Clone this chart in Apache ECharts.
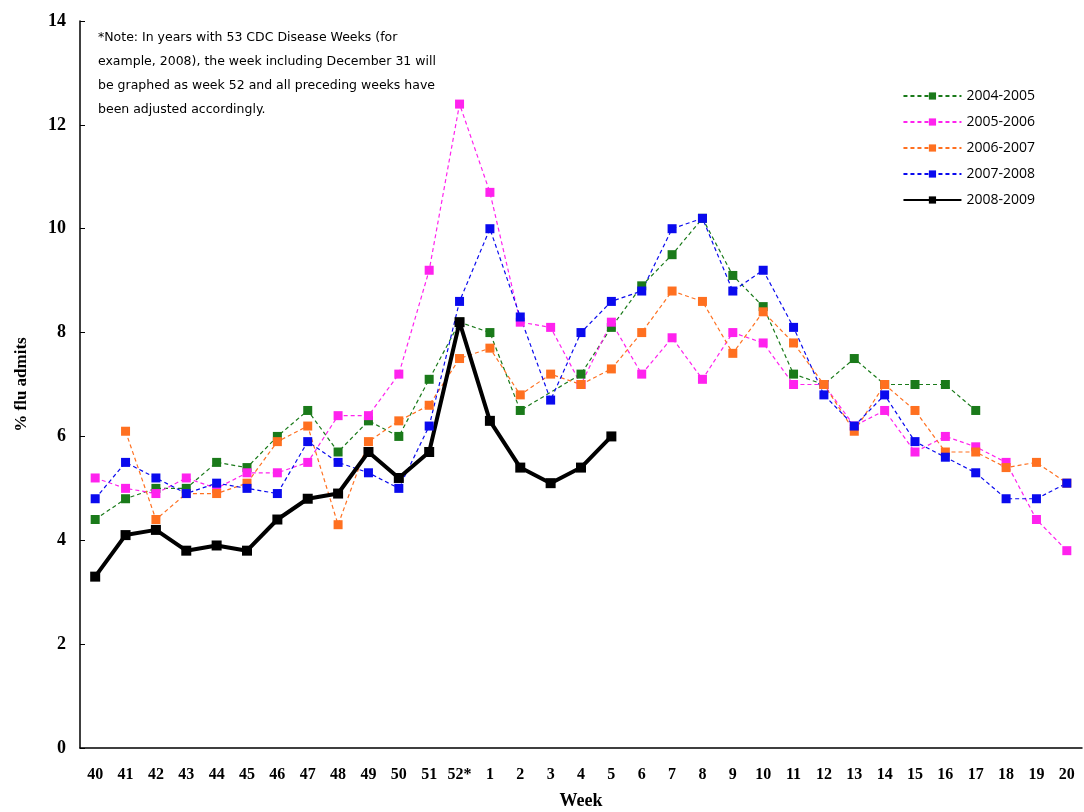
<!DOCTYPE html>
<html>
<head>
<meta charset="utf-8">
<script src="https://cdn.jsdelivr.net/npm/echarts@6/dist/echarts.min.js"></script>
<style>html,body{margin:0;padding:0;background:#fff}#container{width:1084px;height:812px}</style>
</head>
<body>
<div id="container"></div>
<script>
let weeks = ['40','41','42','43','44','45','46','47','48','49','50','51','52*',
    '1','2','3','4','5','6','7','8','9','10','11','12','13','14','15','16','17','18','19','20'];

let s0405 = [4.4,4.8,5.0,5.0,5.5,5.4,6.0,6.5,5.7,6.3,6.0,7.1,8.2,8.0,6.5,null,7.2,8.1,8.9,9.5,10.2,9.1,8.5,7.2,7.0,7.5,7.0,7.0,7.0,6.5,null,null,null];
let s0506 = [5.2,5.0,4.9,5.2,5.0,5.3,5.3,5.5,6.4,6.4,7.2,9.2,12.4,10.7,8.2,8.1,7.0,8.2,7.2,7.9,7.1,8.0,7.8,7.0,7.0,6.2,6.5,5.7,6.0,5.8,5.5,4.4,3.8];
let s0607 = [null,6.1,4.4,4.9,4.9,5.1,5.9,6.2,4.3,5.9,6.3,6.6,7.5,7.7,6.8,7.2,7.0,7.3,8.0,8.8,8.6,7.6,8.4,7.8,7.0,6.1,7.0,6.5,5.7,5.7,5.4,5.5,5.1];
let s0708 = [4.8,5.5,5.2,4.9,5.1,5.0,4.9,5.9,5.5,5.3,5.0,6.2,8.6,10.0,8.3,6.7,8.0,8.6,8.8,10.0,10.2,8.8,9.2,8.1,6.8,6.2,6.8,5.9,5.6,5.3,4.8,4.8,5.1];
let s0809 = [3.3,4.1,4.2,3.8,3.9,3.8,4.4,4.8,4.9,5.7,5.2,5.7,8.2,6.3,5.4,5.1,5.4,6.0];

let yTicks = [0,2,4,6,8,10,12,14];

let note = '*Note: In years with 53 CDC Disease Weeks (for\nexample, 2008), the week including December 31 will\nbe graphed as week 52 and all preceding weeks have\nbeen adjusted accordingly.';

function dashed(name, data, color) {
    return {
        name: name, type: 'line', data: data, connectNulls: true,
        symbol: 'rect', symbolSize: 9,
        itemStyle: {color: color},
        lineStyle: {color: color, width: 1.2, type: [4, 3]}
    };
}

let chart = echarts.init(document.getElementById('container'));
chart.setOption({
    animation: false,
    grid: {left: 80, right: 2, top: 21, bottom: 64, outerBoundsMode: 'none'},
    legend: {
        orient: 'vertical', right: 44, top: 84, itemGap: 12,
        itemWidth: 58, itemHeight: 9,
        textStyle: {fontFamily: 'Open Sans', fontSize: 14, color: '#000'},
        data: ['2004-2005','2005-2006','2006-2007','2007-2008','2008-2009']
    },
    graphic: [{
        type: 'text', left: 98, top: 26,
        style: {text: note, fontFamily: 'DejaVu Sans', fontSize: 12.5, lineHeight: 24, fill: '#000'}
    }],
    xAxis: {
        type: 'category', data: weeks, boundaryGap: true,
        name: 'Week', nameLocation: 'middle', nameGap: 44,
        nameTextStyle: {fontFamily: 'Liberation Serif', fontWeight: 'bold', fontSize: 18, color: '#000'},
        axisLine: {lineStyle: {color: '#000', width: 1.5}},
        axisTick: {show: false},
        axisLabel: {fontFamily: 'Liberation Serif', fontWeight: 'bold', fontSize: 16, color: '#000', interval: 0, margin: 19}
    },
    yAxis: {
        type: 'value', min: yTicks[0], max: yTicks[yTicks.length - 1], interval: 2,
        name: '% flu admits', nameLocation: 'middle', nameGap: 50,
        nameTextStyle: {fontFamily: 'Liberation Serif', fontWeight: 'bold', fontSize: 17, color: '#000'},
        axisLine: {show: true, lineStyle: {color: '#000', width: 1.5}},
        axisTick: {show: true, length: -5, lineStyle: {color: '#000'}},
        splitLine: {show: false},
        axisLabel: {fontFamily: 'Liberation Serif', fontWeight: 'bold', fontSize: 18, color: '#000', margin: 14}
    },
    series: [
        dashed('2004-2005', s0405, '#1a7a1a'),
        dashed('2005-2006', s0506, '#ff22ee'),
        dashed('2006-2007', s0607, '#ff7020'),
        dashed('2007-2008', s0708, '#0a0aee'),
        {
            name: '2008-2009', type: 'line', data: s0809,
            symbol: 'rect', symbolSize: 10,
            itemStyle: {color: '#000'},
            lineStyle: {color: '#000', width: 4}
        }
    ]
});
</script>
</body>
</html>
